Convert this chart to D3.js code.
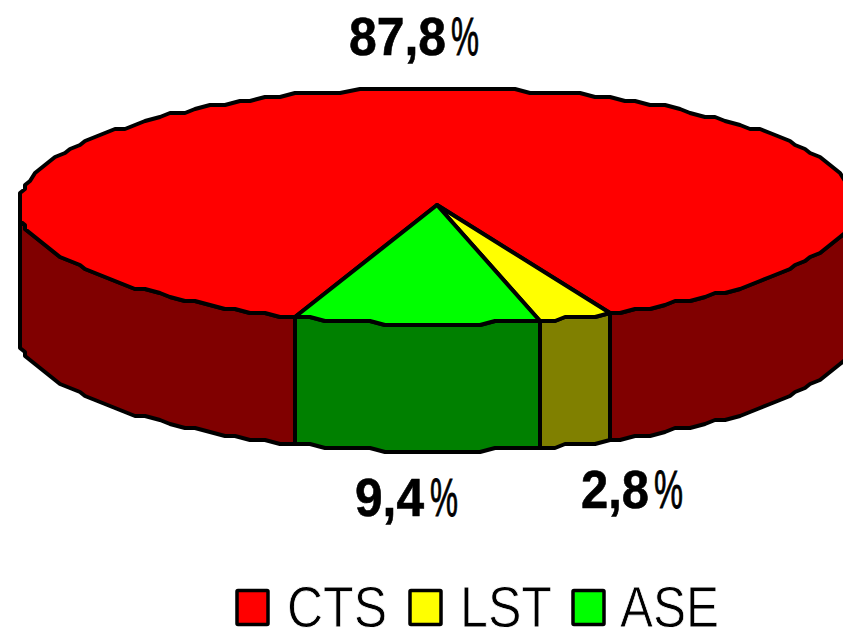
<!DOCTYPE html>
<html lang="en">
<head>
  <meta charset="UTF-8">
  <title>CTS LST ASE</title>
  <script src="https://cdn.jsdelivr.net/npm/d3@7"></script>
  <style>
    html, body { margin: 0; padding: 0; background: #fff; overflow: hidden; }
    text { font-family: "Liberation Sans", Arial, sans-serif; fill: #000; }
  </style>
</head>
<body>
  <svg id="chart"></svg>
  <script>
    const categories = ['CTS', 'LST', 'ASE']
    const percents = [87.8, 2.8, 9.4]
    const topColors = ['#ff0000', '#ffff00', '#00ff00']
    const sideColors = ['#800000', '#808000', '#008000']

    const width = 843
    const height = 629
    const center = { x: 437, y: 205 }
    const radius = { x: 418, y: 118 }
    const depth = 127
    const stepDeg = 2.2
    const gridX = 5
    const gridY = 4
    const startDeg = 199.8
    const toRad = Math.PI / 180

    // label boxes: number part and the narrow % sign are fitted separately
    const labelLayout = [
      { x: 349, y: 55, w: 97, px: 451, pw: 28 },
      { x: 581, y: 508, w: 68, px: 654, pw: 29 },
      { x: 355, y: 516, w: 69, px: 430, pw: 28 }
    ]
    const legendLayout = [
      { x: 237, tx: 287, tw: 100 },
      { x: 410, tx: 460, tw: 92 },
      { x: 573, tx: 620, tw: 99 }
    ]

    const svg = d3.select('#chart')
      .attr('width', width)
      .attr('height', height)
      .style('display', 'block')
    const x = d3.scaleLinear().domain([-1, 1]).range([center.x - radius.x, center.x + radius.x])
    const y = d3.scaleLinear().domain([-1, 1]).range([center.y - radius.y, center.y + radius.y])

    // the original rim is a rough polygon, so points sit on a coarse grid
    const rimX = a => Math.round(x(Math.sin(a)) / gridX) * gridX
    const rimY = a => Math.round(y(-Math.cos(a)) / gridY) * gridY + 1

    const pie = d3.pie().sort(null)
      .startAngle(startDeg * toRad)
      .endAngle((startDeg + 360) * toRad)
    const slices = pie(percents).map((d, i) => ({ ...d, i }))

    function sample(a0, a1) {
      const n = Math.max(1, Math.ceil((a1 - a0) / (stepDeg * toRad)))
      return d3.range(n + 1).map(k => a0 + (a1 - a0) * k / n)
    }

    // only the part of each slice between 90 and 270 degrees shows a wall
    function frontParts(d) {
      const parts = []
      for (const turn of [0, 2 * Math.PI]) {
        const a0 = Math.max(d.startAngle, Math.PI / 2 + turn)
        const a1 = Math.min(d.endAngle, 1.5 * Math.PI + turn)
        if (a1 > a0) parts.push({ i: d.i, angles: sample(a0, a1) })
      }
      return parts
    }

    const wall = d3.area().x(rimX).y0(rimY).y1(a => rimY(a) + depth)
    const topLine = d3.line().x(d => d[0]).y(d => d[1])

    svg.append('g').selectAll('path')
      .data(slices.flatMap(frontParts))
      .join('path')
      .attr('d', d => wall(d.angles))
      .attr('fill', d => sideColors[d.i])
      .attr('stroke', '#000')
      .attr('stroke-width', 4)
      .attr('stroke-linejoin', 'round')

    svg.append('g').selectAll('path')
      .data(slices)
      .join('path')
      .attr('d', d => {
        const pts = sample(d.startAngle, d.endAngle).map(a => [rimX(a), rimY(a)])
        return topLine([[center.x, center.y], ...pts]) + 'Z'
      })
      .attr('fill', d => topColors[d.i])
      .attr('stroke', '#000')
      .attr('stroke-width', 4)
      .attr('stroke-linejoin', 'round')

    const fmt = v => String(v).replace('.', ',')

    const labels = svg.append('g').selectAll('g')
      .data(percents)
      .join('g')

    labels.append('text')
      .attr('x', (d, i) => labelLayout[i].x)
      .attr('y', (d, i) => labelLayout[i].y)
      .attr('font-size', 53)
      .attr('font-weight', 'bold')
      .attr('stroke', '#000')
      .attr('stroke-width', 0.6)
      .attr('textLength', (d, i) => labelLayout[i].w)
      .attr('lengthAdjust', 'spacingAndGlyphs')
      .text(fmt)

    labels.append('text')
      .attr('x', (d, i) => labelLayout[i].px)
      .attr('y', (d, i) => labelLayout[i].y)
      .attr('font-size', 53)
      .attr('stroke', '#000')
      .attr('stroke-width', 0.9)
      .attr('textLength', (d, i) => labelLayout[i].pw)
      .attr('lengthAdjust', 'spacingAndGlyphs')
      .text('%')

    const legend = svg.append('g').selectAll('g')
      .data(categories)
      .join('g')

    legend.append('rect')
      .attr('x', (d, i) => legendLayout[i].x)
      .attr('y', 590.5)
      .attr('width', 31)
      .attr('height', 34)
      .attr('rx', 1)
      .attr('fill', (d, i) => topColors[i])
      .attr('stroke', '#000')
      .attr('stroke-width', 3.5)

    // white outline thins the glyphs down to the light weight of the original
    legend.append('text')
      .attr('x', (d, i) => legendLayout[i].tx)
      .attr('y', 627)
      .attr('font-size', 57)
      .attr('stroke', '#fff')
      .attr('stroke-width', 0.8)
      .attr('textLength', (d, i) => legendLayout[i].tw)
      .attr('lengthAdjust', 'spacingAndGlyphs')
      .text(d => d)
  </script>
</body>
</html>
